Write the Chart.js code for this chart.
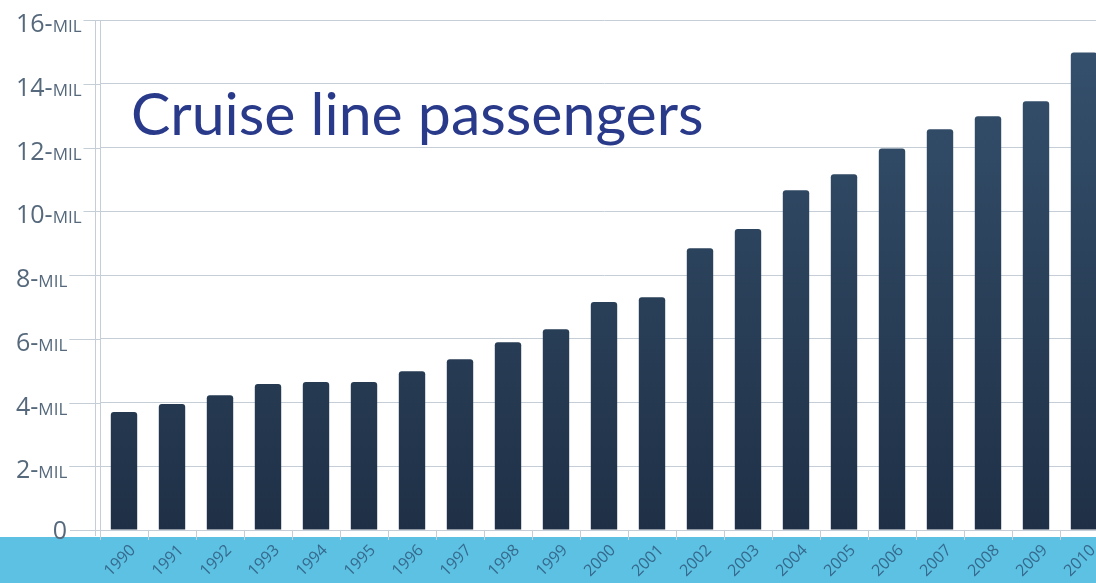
<!DOCTYPE html>
<html>
<head>
<meta charset="utf-8">
<script src="https://cdn.jsdelivr.net/npm/chart.js@4.4.1/dist/chart.umd.min.js"></script>
<style>
  html, body { margin: 0; padding: 0; width: 1096px; height: 583px; overflow: hidden; background: #fff; }
  #band { position: absolute; left: 0; top: 537px; width: 1096px; height: 46px; background: #5cc1e2; }
  #wrap { position: absolute; left: 0; top: 0; width: 1108px; height: 583px; }
</style>
</head>
<body>
<div id="band"></div>
<div id="wrap"><canvas id="cruiseChart"></canvas></div>
<script>
const years = [
  "1990", "1991", "1992", "1993", "1994", "1995", "1996", "1997", "1998", "1999", "2000",
  "2001", "2002", "2003", "2004", "2005", "2006", "2007", "2008", "2009", "2010"
];
// millions of passengers
const passengers = [
  3.7, 3.95, 4.23, 4.58, 4.64, 4.64, 4.98, 5.36, 5.89, 6.3, 7.15,
  7.3, 8.84, 9.44, 10.66, 11.16, 11.97, 12.57, 12.98, 13.45, 14.98
];
const yTicks = [0, 2, 4, 6, 8, 10, 12, 14, 16];
const chartTitle = "Cruise line passengers";

const gridColor = "#c5ced7";

// y labels like "16-MIL": big number, small caps suffix
const yLabels = {
  id: "yLabels",
  afterDraw(chart) {
    const { ctx, scales: { y } } = chart;
    ctx.save();
    ctx.fillStyle = "#56697c";
    ctx.strokeStyle = gridColor;
    ctx.lineWidth = 1;
    ctx.textBaseline = "alphabetic";
    yTicks.forEach(v => {
      const py = Math.round(y.getPixelForValue(v)) + 0.5;
      let end;
      if (v === 0) {
        ctx.font = '25px "Open Sans"';
        ctx.textAlign = "right";
        ctx.fillText("0", 67, py + 8);
        end = 70;
      } else {
        ctx.textAlign = "left";
        ctx.font = '25px "Open Sans"';
        const num = v + "-";
        ctx.fillText(num, 16, py + 11);
        let x = 16 + ctx.measureText(num).width;
        ctx.font = '17px "Open Sans"';
        ctx.fillText("MIL", x, py + 11);
        end = x + ctx.measureText("MIL").width + 2;
      }
      ctx.beginPath();
      ctx.moveTo(end, py);
      ctx.lineTo(y.right, py);
      ctx.stroke();
    });
    // second faint axis line
    ctx.beginPath();
    ctx.moveTo(y.right - 4.5, y.top);
    ctx.lineTo(y.right - 4.5, y.bottom + 6);
    ctx.stroke();

    ctx.font = '59px Lato';
    ctx.fillStyle = "#2a3a8a";
    ctx.textAlign = "left";
    ctx.fillText(chartTitle, 131, 135);
    ctx.restore();
  }
};

document.addEventListener("DOMContentLoaded", function () {
  const ctx = document.getElementById("cruiseChart").getContext("2d");
  new Chart(ctx, {
    type: "bar",
    data: {
      labels: years,
      datasets: [{
        label: "Passengers",
        data: passengers,
        backgroundColor: function (context) {
          const area = context.chart.chartArea;
          if (!area) return "#2c4360";
          const g = context.chart.ctx.createLinearGradient(0, area.top, 0, area.bottom);
          g.addColorStop(0, "#36526f");
          g.addColorStop(1, "#1f3046");
          return g;
        },
        borderRadius: { topLeft: 3, topRight: 3 },
        borderSkipped: "bottom",
        barPercentage: 0.55,
        categoryPercentage: 1
      }]
    },
    options: {
      responsive: true,
      maintainAspectRatio: false,
      animation: false,
      layout: { padding: { top: 20, left: 0, right: 0, bottom: 0 } },
      scales: {
        x: {
          afterFit: s => { s.height = 53; },
          grid: { drawOnChartArea: false, color: gridColor, tickLength: 10 },
          border: { color: gridColor },
          ticks: {
            minRotation: 45,
            maxRotation: 45,
            color: "#36698d",
            font: { family: "Open Sans", size: 16 },
            padding: 1,
            labelOffset: 9
          }
        },
        y: {
          min: 0,
          max: 16,
          afterFit: s => { s.width = 100; },
          ticks: { stepSize: 2, display: false },
          grid: { color: gridColor, drawTicks: false },
          border: { color: gridColor }
        }
      },
      plugins: {
        legend: { display: false },
        tooltip: { enabled: false }
      }
    },
    plugins: [yLabels]
  });
});
</script>
</body>
</html>
